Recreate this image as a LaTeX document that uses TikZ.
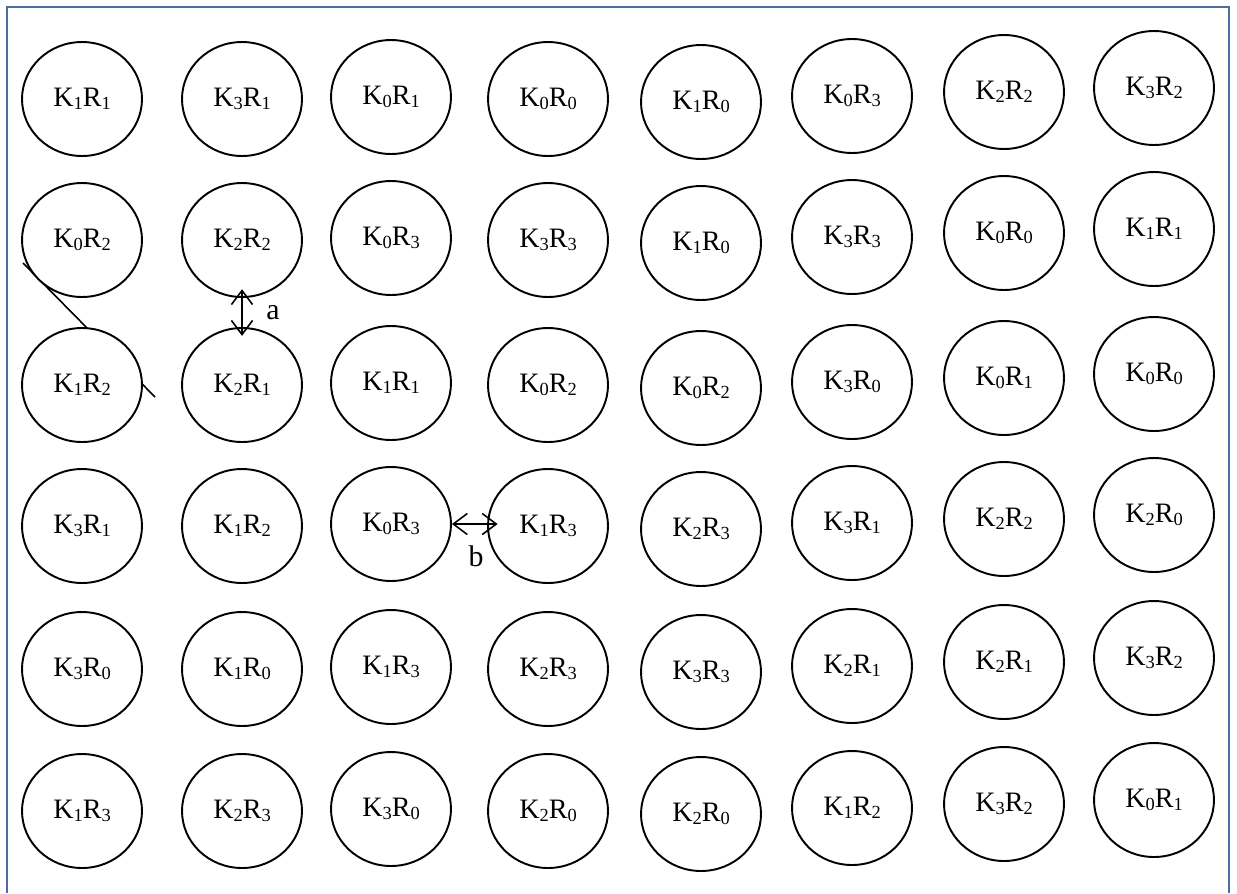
\documentclass[tikz,border=0pt]{standalone}
\usepackage{fontspec}
\setmainfont{Liberation Serif}
\usetikzlibrary{shapes.geometric,arrows.meta}

\definecolor{framecol}{RGB}{74,110,160}
\newcommand{\sbs}[1]{\raisebox{-1.7pt}{\fontsize{10.5}{12}\selectfont #1}}
\newcommand{\kr}[2]{K\sbs{#1}R\sbs{#2}}

\tikzset{
  cell/.style={ellipse, draw, fill=white, line width=1.1pt, inner sep=0pt,
    minimum width=2.4cm, minimum height=2.28cm, font=\fontsize{16}{19}\selectfont},
  link/.style={{Straight Barb[length=8pt,width=12pt]}-{Straight Barb[length=8pt,width=12pt]}, line width=0.9pt},
  tag/.style={font=\fontsize{17}{20}\selectfont, inner sep=0pt}
}

\begin{document}
\begin{tikzpicture}[x=0.02cm, y=-0.02cm]
            \useasboundingbox (0,0) rectangle (1237,893);

            % Frame
            \draw[framecol, line width=1.6pt] (7,893) -- (7,7) -- (1229,7) -- (1229,893);

            % Stray line behind the first column
            \coordinate (s1) at (23,263);
            \coordinate (s2) at (155,397);
            \draw[line width=0.9pt] (s1) -- (s2);

            % Row 1
            \node[cell] (r1c1) at (82,99)   {\kr11};
            \node[cell] (r1c2) at (242,99)  {\kr31};
            \node[cell] (r1c3) at (391,97)  {\kr01};
            \node[cell] (r1c4) at (548,99)  {\kr00};
            \node[cell] (r1c5) at (701,102) {\kr10};
            \node[cell] (r1c6) at (852,96)  {\kr03};
            \node[cell] (r1c7) at (1004,92) {\kr22};
            \node[cell] (r1c8) at (1154,88) {\kr32};

            % Row 2
            \node[cell] (r2c1) at (82,240)   {\kr02};
            \node[cell] (r2c2) at (242,240)  {\kr22};
            \node[cell] (r2c3) at (391,238)  {\kr03};
            \node[cell] (r2c4) at (548,240)  {\kr33};
            \node[cell] (r2c5) at (701,243)  {\kr10};
            \node[cell] (r2c6) at (852,237)  {\kr33};
            \node[cell] (r2c7) at (1004,233) {\kr00};
            \node[cell] (r2c8) at (1154,229) {\kr11};

            % Row 3
            \node[cell] (r3c1) at (82,385)   {\kr12};
            \node[cell] (r3c2) at (242,385)  {\kr21};
            \node[cell] (r3c3) at (391,383)  {\kr11};
            \node[cell] (r3c4) at (548,385)  {\kr02};
            \node[cell] (r3c5) at (701,388)  {\kr02};
            \node[cell] (r3c6) at (852,382)  {\kr30};
            \node[cell] (r3c7) at (1004,378) {\kr01};
            \node[cell] (r3c8) at (1154,374) {\kr00};

            % Row 4
            \node[cell] (r4c1) at (82,526)   {\kr31};
            \node[cell] (r4c2) at (242,526)  {\kr12};
            \node[cell] (r4c3) at (391,524)  {\kr03};
            \node[cell] (r4c4) at (548,526)  {\kr13};
            \node[cell] (r4c5) at (701,529)  {\kr23};
            \node[cell] (r4c6) at (852,523)  {\kr31};
            \node[cell] (r4c7) at (1004,519) {\kr22};
            \node[cell] (r4c8) at (1154,515) {\kr20};

            % Row 5
            \node[cell] (r5c1) at (82,669)   {\kr30};
            \node[cell] (r5c2) at (242,669)  {\kr10};
            \node[cell] (r5c3) at (391,667)  {\kr13};
            \node[cell] (r5c4) at (548,669)  {\kr23};
            \node[cell] (r5c5) at (701,672)  {\kr33};
            \node[cell] (r5c6) at (852,666)  {\kr21};
            \node[cell] (r5c7) at (1004,662) {\kr21};
            \node[cell] (r5c8) at (1154,658) {\kr32};

            % Row 6
            \node[cell] (r6c1) at (82,811)   {\kr13};
            \node[cell] (r6c2) at (242,811)  {\kr23};
            \node[cell] (r6c3) at (391,809)  {\kr30};
            \node[cell] (r6c4) at (548,811)  {\kr20};
            \node[cell] (r6c5) at (701,814)  {\kr20};
            \node[cell] (r6c6) at (852,808)  {\kr12};
            \node[cell] (r6c7) at (1004,804) {\kr32};
            \node[cell] (r6c8) at (1154,800) {\kr01};

            % Distances a and b
            \draw[link, shorten <=-5pt, shorten >=-5pt] (r2c2.south) -- (r3c2.north);
            \draw[link, shorten >=-6pt] (r4c3.east) -- (r4c3.east -| r4c4.west);
            \node[tag] (la) at (273,313) {a};
            \node[tag] (lb) at (476,556) {b};
        \end{tikzpicture}
\end{document}
